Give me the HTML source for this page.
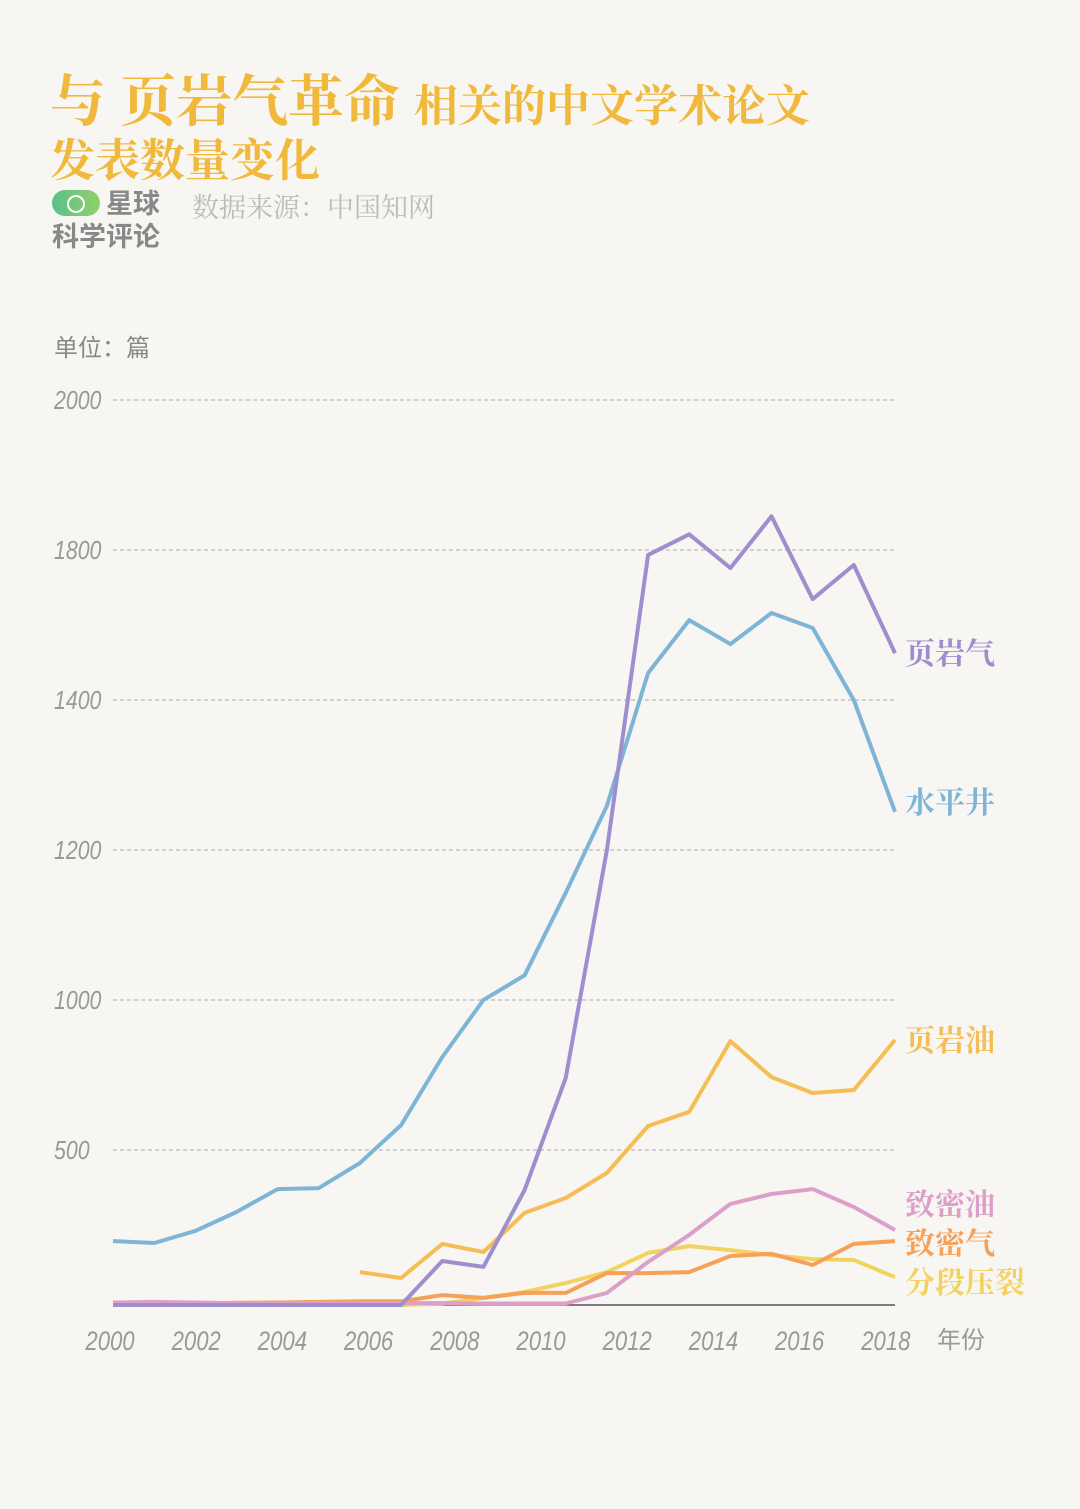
<!DOCTYPE html>
<html><head><meta charset="utf-8">
<style>
html,body{margin:0;padding:0;background:#f8f6f2;}
body{width:1080px;height:1509px;position:relative;overflow:hidden;font-family:"Liberation Sans","Noto Sans CJK SC",sans-serif;}
.t{position:absolute;color:#f0b93c;font-weight:bold;font-family:"Liberation Serif","Noto Serif CJK SC",serif;white-space:nowrap;}
</style></head><body>
<div class="t" style="left:50px;top:58px;font-size:56px;">与 页岩气革命 <span style="font-size:44px;">相关的中文学术论文</span></div>
<div class="t" style="left:50px;top:124px;font-size:45px;">发表数量变化</div>
<div style="position:absolute;left:52px;top:190px;width:48px;height:26px;border-radius:13px;background:linear-gradient(90deg,#5cc08a,#8fd06a);"><div style="position:absolute;left:15px;top:5px;width:14px;height:14px;border:2px solid #fff;border-radius:50%;"></div></div>
<div style="position:absolute;left:106px;top:188px;font-size:27px;color:#888;font-weight:bold;line-height:32px;">星球</div>
<div style="position:absolute;left:52px;top:221px;font-size:27px;color:#888;font-weight:bold;line-height:32px;">科学评论</div>
<div style="position:absolute;left:192px;top:186px;font-size:27px;color:#bbb;font-family:'Liberation Serif','Noto Serif CJK SC',serif;">数据来源：中国知网</div>
<div style="position:absolute;left:54px;top:328px;font-size:24px;color:#888;">单位：篇</div>
<svg id="chart" width="1080" height="1509" style="position:absolute;left:0;top:0;"></svg>
<script>
const categories=[0,1,2,3,4,5,6,7,8,9,10,11,12,13,14,15,16,17,18,19];
const yTicks=[0,500,1000,1200,1400,1800,2000];
const yTickPix=[1305,1150,1000,850,700,550,400];
const xTickLabels=["2000","2002","2004","2006","2008","2010","2012","2014","2016","2018"];
const shaleGas=[0,0,0,0,0,0,0,0,142,123,371,740,1200,1787,1821,1752,1845,1669,1760,1525];
const horizontalWell=[206,200,239,300,374,377,458,583,810,1000,1033,1143,1259,1472,1613,1549,1632,1592,1400,1251];
const shaleOil=[null,null,null,null,null,null,106,87,197,171,297,345,426,580,627,863,743,690,700,867];
const tightOil=[8,10,8,6,6,6,6,6,6,5,5,5,39,139,226,326,358,374,316,242];
const tightGas=[2,3,5,7,8,10,12,12,32,23,39,39,103,103,106,158,165,129,197,206];
const fracturing=[null,null,null,null,null,null,null,0,5,23,42,71,106,168,190,177,161,148,145,90];
const svg=document.getElementById('chart');
const NS='http://www.w3.org/2000/svg';
function yScale(v){for(let k=0;k<yTicks.length-1;k++){if(v<=yTicks[k+1]){const a=yTicks[k],b=yTicks[k+1];return yTickPix[k]+(v-a)/(b-a)*(yTickPix[k+1]-yTickPix[k]);}}return yTickPix[yTickPix.length-1];}
function xScale(i){return 113+i*(895-113)/19;}
function xLab(j){return 110+j*86.2;}
function mk(tag,attrs){const e=document.createElementNS(NS,tag);for(const k in attrs)e.setAttribute(k,attrs[k]);svg.appendChild(e);return e;}
yTicks.forEach((t,k)=>{
 if(t>0){const l=mk('line',{x1:113,x2:895,y1:yScale(t),y2:yScale(t),stroke:'#aaa','stroke-width':1,'stroke-dasharray':'4,3'});
 
 }
 if(t>0){const tx=mk('text',{x:0,y:0,'font-size':26,fill:'#999','font-style':'italic',transform:'translate(54,'+(yScale(t)+9)+') scale(0.82,1)'});tx.textContent=t;
 
 }
});
const ax=mk('line',{x1:113,x2:895,y1:1305,y2:1305,stroke:'#555','stroke-width':1.5});


xTickLabels.forEach((s,j)=>{const tx=mk('text',{x:0,y:0,'font-size':27,fill:'#999','font-style':'italic','text-anchor':'middle',transform:'translate('+xLab(j)+',1350) scale(0.82,1)'});tx.textContent=s;
 
 });
const yl=mk('text',{x:937,y:1348,'font-size':24,fill:'#999'});yl.textContent='年份';


const series=[
 {d:fracturing,c:'#f3d35f',n:'分段压裂',ly:1282,nm:'fracturing'},
 {d:tightGas,c:'#f5a15a',n:'致密气',ly:1243,nm:'tight-gas'},
 {d:tightOil,c:'#dca0c8',n:'致密油',ly:1204,nm:'tight-oil'},
 {d:shaleOil,c:'#f5bd55',n:'页岩油',ly:1040,nm:'shale-oil'},
 {d:horizontalWell,c:'#7eb5d6',n:'水平井',ly:802,nm:'horizontal-well'},
 {d:shaleGas,c:'#9d8fce',n:'页岩气',ly:653,nm:'shale-gas'}];
series.forEach(s=>{
 const pts=[];categories.forEach(i=>{if(s.d[i]!=null)pts.push(xScale(i).toFixed(1)+','+yScale(s.d[i]).toFixed(1));});
 const p=mk('polyline',{points:pts.join(' '),fill:'none',stroke:s.c,'stroke-width':4,'stroke-linejoin':'round'});
 
 
 const t=mk('text',{x:905,y:s.ly+11,'font-size':30,'font-weight':'bold',fill:s.c,'font-family':'Liberation Serif, Noto Serif CJK SC, serif'});t.textContent=s.n;
 
 
});
</script>
</body></html>
